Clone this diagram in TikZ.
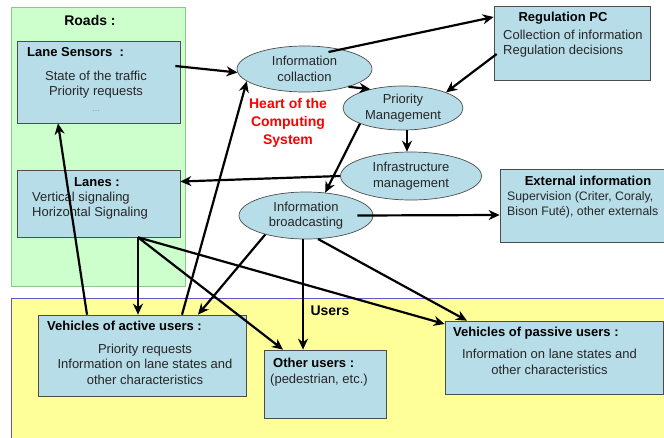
\documentclass[tikz,border=0pt]{standalone}
\usepackage{fontspec}
\setmainfont{Liberation Sans}
\usetikzlibrary{shapes.geometric,arrows.meta}
\definecolor{boxblue}{RGB}{183,221,232}
\definecolor{roadgreen}{RGB}{204,255,204}
\definecolor{roadline}{RGB}{140,200,140}
\definecolor{useryellow}{RGB}{255,255,153}
\definecolor{userline}{RGB}{90,90,200}
\begin{document}
\begin{tikzpicture}[x=1pt,y=-1pt,
	box/.style={draw=black!70,line width=0.7pt,fill=boxblue,rectangle,inner sep=0pt},
	ell/.style={draw=black!70,line width=0.7pt,fill=boxblue,ellipse,inner sep=0pt,align=center,text=black!85,font=\fontsize{13}{15.5}\selectfont},
	txt/.style={inner sep=0pt,text=black!85,font=\fontsize{13}{15.5}\selectfont},
	ttl/.style={inner sep=0pt,font=\fontsize{13}{15.5}\selectfont\bfseries},
	big/.style={inner sep=0pt,font=\fontsize{14}{18}\selectfont\bfseries},
	arr/.style={line width=2.2pt,-{Stealth[length=11pt,width=10pt]}}]
		\useasboundingbox (0,0) rectangle (664,437);
		\draw[fill=roadgreen,draw=roadline] (11,7) rectangle (185,286);
		\draw[fill=useryellow,draw=userline] (11,298) rectangle (680,450);
		
		\node[big] (roads) at (90,20) {Roads :};
		\node[big] (users) at (330,311) {Users};
		
		\node[box,minimum width=163,minimum height=82] (lsens) at (98.5,82) {};
		\node[ttl,anchor=west] (lsenst) at (27,52) {Lane Sensors\ \ :};
		\node[txt,align=center] (lsensb) at (96,91) {State of the traffic\\Priority requests\\{\footnotesize\color{black!45}\dots}};
		
		\node[box,minimum width=163,minimum height=67] (lanes) at (98.5,203.5) {};
		\node[ttl] (lanest) at (97,182) {Lanes :};
		\node[txt,anchor=west,align=left] (lanesb) at (32,205.5) {Vertical signaling\\Horizontal Signaling};
		
		\node[box,minimum width=156,minimum height=74] (regpc) at (572,43) {};
		\node[ttl] (regpct) at (563,18) {Regulation PC};
		\node[txt,anchor=west,align=left] (regpcb) at (503,43.5) {Collection of information\\Regulation decisions};
		
		\node[box,minimum width=176,minimum height=73] (extinfo) at (588,205.5) {};
		\node[ttl] (extinfot) at (588,181) {External information};
		\node[txt,anchor=west,align=left,font=\fontsize{12.3}{15.5}\selectfont] (extinfob) at (507,205) {Supervision (Criter, Coraly,\\Bison Futé), other externals};
		
		\node[box,minimum width=208,minimum height=81] (actveh) at (142,355.5) {};
		\node[ttl,anchor=west] (actveht) at (47,326) {Vehicles of active users :};
		\node[txt,align=center] (actvehb) at (145,364) {Priority requests\\Information on lane states and\\other characteristics};
		
		\node[box,minimum width=122,minimum height=68] (othusr) at (325,384) {};
		\node[ttl,anchor=west] (othusrt) at (273,363) {Other users :};
		\node[txt,anchor=west] (othusrb) at (270,380) {(pedestrian, etc.)};
		
		\node[box,minimum width=218,minimum height=73] (pasveh) at (554,357.5) {};
		\node[ttl,anchor=west] (pasveht) at (453,333) {Vehicles of passive users :};
		\node[txt,align=center] (pasvehb) at (549.5,362) {Information on lane states and\\other characteristics};
		
		\node[ell,minimum width=135,minimum height=46] (icoll) at (304.5,69) {Information\\collaction};
		\node[ell,minimum width=120,minimum height=44] (prio) at (403,108) {Priority\\Management};
		\node[ell,minimum width=141,minimum height=48] (infra) at (411,176) {Infrastructure\\management};
		\node[ell,minimum width=134,minimum height=47] (ibcast) at (306,215.5) {Information\\broadcasting};
		
		\node[big,text=red,align=center] (heart) at (288,123) {Heart of the\\Computing\\System};
		
		\draw[arr] ([shift={(-5pt,16pt)}]lsens.east) -- (icoll.183);
		\draw[arr] ([shift={(24pt,17pt)}]icoll.center) -- ([yshift=26pt]regpc.west);
		\draw[arr] ([shift={(3pt,-11pt)}]regpc.west) -- (prio.20);
		\draw[arr] (icoll.-22) -- (prio.150);
		\draw[arr] ([xshift=4pt]prio.south) -- ([xshift=-4pt]infra.north);
		\draw[arr] (prio.200) -- (ibcast.50);
		\draw[arr] (infra.west) -- ([yshift=22pt]lanes.east);
		\draw[arr] ([xshift=-16pt]ibcast.east) -- ([yshift=-9.5pt]extinfo.west);
		\draw[arr] (ibcast.205) -- ([xshift=56pt]actveh.north);
		\draw[arr] ([xshift=-3pt]ibcast.south) -- ([xshift=-22pt]othusr.north);
		\draw[arr] (ibcast.-63) -- ([xshift=-87pt]pasveh.north);
		\draw[arr] ([xshift=39.5pt]lanes.south) -- ([xshift=-4pt]actveh.north);
		\draw[arr] ([xshift=39.5pt]lanes.south) -- ([xshift=-42pt]othusr.north);
		\draw[arr] ([xshift=39.5pt]lanes.south) -- ([yshift=33.5pt]pasveh.west);
		\draw[arr] ([xshift=-55pt]actveh.north) -- ([xshift=-40.5pt]lsens.south);
		\draw[arr] ([xshift=40pt]actveh.north) -- (icoll.192);
\end{tikzpicture}
\end{document}
